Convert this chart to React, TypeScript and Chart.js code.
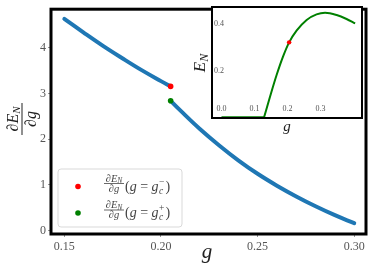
import React, { useEffect, useRef } from "react";
import { Chart, registerables } from "chart.js";
Chart.register(...registerables);

// ---- main plot data: dE_N/dg vs g ----
const gUpper = [0.150, 0.160, 0.170, 0.180, 0.190, 0.200, 0.205];
const dEUpper = [4.63, 4.33, 4.04, 3.77, 3.51, 3.27, 3.155];
const gLower = [0.205, 0.210, 0.220, 0.230, 0.240, 0.250, 0.260, 0.270, 0.280, 0.290, 0.300];
const dELower = [2.84, 2.63, 2.23, 1.87, 1.54, 1.245, 0.985, 0.75, 0.535, 0.34, 0.165];
const gCritical = [0.205];
const dEMinus = [3.155];
const dEPlus = [2.84];
const xTicks = [0.15, 0.2, 0.25, 0.3];
const yTicks = [0, 1, 2, 3, 4];

// ---- inset data: E_N vs g ----
const insetGFlat = [0.0, 0.05, 0.1, 0.129];
const insetEFlat = [0, 0, 0, 0];
const insetGRise = [0.129, 0.147, 0.167, 0.187, 0.205, 0.228, 0.258, 0.288, 0.314, 0.349, 0.379, 0.405];
const insetERise = [0, 0.088, 0.181, 0.262, 0.321, 0.372, 0.417, 0.441, 0.448, 0.438, 0.421, 0.402];
const insetCritE = [0.321];
const insetXTicks = [0, 0.1, 0.2, 0.3];
const insetYTicks = [0.2, 0.4];

const SERIF = "'Liberation Serif', 'Times New Roman', serif";

const pts = (xs: number[], ys: number[]) => xs.map((x, i) => ({ x, y: ys[i] }));

type Run = { t: string; f: string; dy?: number };
function runsWidth(ctx: CanvasRenderingContext2D, runs: Run[]) {
  let w = 0;
  for (const r of runs) { ctx.font = r.f; w += ctx.measureText(r.t).width; }
  return w;
}
function drawRuns(ctx: CanvasRenderingContext2D, runs: Run[], x: number, y: number) {
  let cx = x;
  ctx.textAlign = "left";
  ctx.textBaseline = "alphabetic";
  for (const r of runs) {
    ctx.font = r.f;
    ctx.fillText(r.t, cx, y + (r.dy || 0));
    cx += ctx.measureText(r.t).width;
  }
  return cx;
}
function drawFrac(ctx: CanvasRenderingContext2D, num: Run[], den: Run[], cx: number, barY: number, numBase: number, denBase: number, barHalf: number, lw: number) {
  const wn = runsWidth(ctx, num);
  const wd = runsWidth(ctx, den);
  drawRuns(ctx, num, cx - wn / 2, barY + numBase);
  drawRuns(ctx, den, cx - wd / 2, barY + denBase);
  ctx.fillRect(cx - barHalf, barY - lw / 2, barHalf * 2, lw);
}

const mainDecor = {
  id: "mainDecor",
  afterDraw(chart: any) {
    const ctx: CanvasRenderingContext2D = chart.ctx;
    const a = chart.chartArea;
    ctx.save();
    // frame
    ctx.strokeStyle = "#000";
    ctx.lineWidth = 3;
    ctx.strokeRect(a.left, a.top, a.right - a.left, a.bottom - a.top);

    // legend box
    const lx = 58, ly = 169, lw = 124, lh = 58, rr = 3;
    ctx.beginPath();
    ctx.moveTo(lx + rr, ly);
    ctx.arcTo(lx + lw, ly, lx + lw, ly + lh, rr);
    ctx.arcTo(lx + lw, ly + lh, lx, ly + lh, rr);
    ctx.arcTo(lx, ly + lh, lx, ly, rr);
    ctx.arcTo(lx, ly, lx + lw, ly, rr);
    ctx.closePath();
    ctx.fillStyle = "rgba(255,255,255,0.85)";
    ctx.fill();
    ctx.strokeStyle = "#d9d9d9";
    ctx.lineWidth = 1;
    ctx.stroke();

    const rows = [
      { y: 186.5, color: "#ff0000", sup: "\u2212" },
      { y: 213, color: "#008000", sup: "+" },
    ];
    for (const row of rows) {
      ctx.fillStyle = row.color;
      ctx.beginPath();
      ctx.arc(78, row.y, 2.8, 0, Math.PI * 2);
      ctx.fill();
      ctx.fillStyle = "#444";
      const fi = `italic 10.5px ${SERIF}`;
      const fs = `italic 7.5px ${SERIF}`;
      drawFrac(
        ctx,
        [{ t: "\u2202", f: fi }, { t: "E", f: fi }, { t: "N", f: fs, dy: 1.5 }],
        [{ t: "\u2202", f: fi }, { t: "g", f: fi }],
        114, row.y - 3, -2, 8, 10, 0.8
      );
      const fr = `14px ${SERIF}`;
      const fit = `italic 14px ${SERIF}`;
      const base = row.y + 4;
      let x = 125;
      x = drawRuns(ctx, [{ t: "(", f: fr }, { t: "g", f: fit }], x, base);
      x += 3.5;
      x = drawRuns(ctx, [{ t: "=", f: fr }], x, base);
      x += 3.5;
      x = drawRuns(ctx, [{ t: "g", f: fit }], x, base);
      ctx.font = `italic 9.5px ${SERIF}`;
      ctx.fillText("c", x + 0.5, base + 3);
      const wc = ctx.measureText("c").width;
      ctx.font = `9.5px ${SERIF}`;
      ctx.fillText(row.sup, x + 0.5, base - 6);
      const ws = ctx.measureText(row.sup).width;
      x += Math.max(wc, ws) + 1.5;
      drawRuns(ctx, [{ t: ")", f: fr }], x, base);
    }

    // x label
    ctx.fillStyle = "#222";
    ctx.font = `italic 21px ${SERIF}`;
    ctx.textAlign = "center";
    ctx.textBaseline = "alphabetic";
    ctx.fillText("g", 207, 258);

    // y label (rotated fraction)
    ctx.save();
    ctx.translate(22, 119);
    ctx.rotate(-Math.PI / 2);
    const fy = `italic 16px ${SERIF}`;
    const fys = `italic 11px ${SERIF}`;
    drawFrac(
      ctx,
      [{ t: "\u2202", f: fy }, { t: "E", f: fy }, { t: "N", f: fys, dy: 2.5 }],
      [{ t: "\u2202", f: fy }, { t: "g", f: fy }],
      0, 0, -4.5, 13.5, 16, 1
    );
    ctx.restore();
    ctx.restore();
  },
};

const insetDecor = {
  id: "insetDecor",
  beforeDraw(chart: any) {
    const ctx: CanvasRenderingContext2D = chart.ctx;
    const a = chart.chartArea;
    ctx.save();
    ctx.fillStyle = "#fff";
    ctx.fillRect(a.left, a.top, a.right - a.left, a.bottom - a.top);
    ctx.restore();
  },
  afterDraw(chart: any) {
    const ctx: CanvasRenderingContext2D = chart.ctx;
    const a = chart.chartArea;
    ctx.save();
    ctx.strokeStyle = "#000";
    ctx.lineWidth = 2;
    ctx.strokeRect(a.left, a.top, a.right - a.left, a.bottom - a.top);
    ctx.fillStyle = "#222";
    ctx.font = `italic 15px ${SERIF}`;
    ctx.textAlign = "center";
    ctx.textBaseline = "alphabetic";
    ctx.fillText("g", (a.left + a.right) / 2, 131);
    // E_N rotated
    ctx.save();
    ctx.translate(15, 63);
    ctx.rotate(-Math.PI / 2);
    ctx.font = `italic 17px ${SERIF}`;
    const wE = ctx.measureText("E").width;
    ctx.font = `italic 12px ${SERIF}`;
    const wN = ctx.measureText("N").width;
    const start = -(wE + wN) / 2;
    ctx.textAlign = "left";
    ctx.font = `italic 17px ${SERIF}`;
    ctx.fillText("E", start, 0);
    ctx.font = `italic 12px ${SERIF}`;
    ctx.fillText("N", start + wE, 3);
    ctx.restore();
    ctx.restore();
  },
};

export default function App() {
  const mainRef = useRef<HTMLCanvasElement>(null);
  const insetRef = useRef<HTMLCanvasElement>(null);

  useEffect(() => {
    const main = new Chart(mainRef.current as HTMLCanvasElement, {
      type: "line",
      data: {
        datasets: [
          { type: "scatter", data: pts(gCritical, dEMinus), backgroundColor: "#ff0000", borderWidth: 0, pointRadius: 2.8 } as any,
          { type: "scatter", data: pts(gCritical, dEPlus), backgroundColor: "#008000", borderWidth: 0, pointRadius: 2.8 } as any,
          { data: pts(gUpper, dEUpper), borderColor: "#1f77b4", borderWidth: 4, pointRadius: 0, tension: 0.4, borderCapStyle: "round", fill: false },
          { data: pts(gLower, dELower), borderColor: "#1f77b4", borderWidth: 4, pointRadius: 0, tension: 0.4, borderCapStyle: "round", fill: false },
        ],
      },
      options: {
        responsive: false,
        animation: false,
        layout: { padding: { left: 0, right: 8, top: 7, bottom: 0 } },
        plugins: { legend: { display: false }, tooltip: { enabled: false } },
        scales: {
          x: {
            type: "linear",
            min: 0.1431,
            max: 0.3061,
            afterBuildTicks: (s: any) => { s.ticks = xTicks.map((v) => ({ value: v })); },
            afterFit: (s: any) => { s.height = 46; },
            grid: { drawOnChartArea: false, drawTicks: true, tickLength: 3, tickColor: "#999" },
            border: { display: false },
            ticks: { font: { family: SERIF, size: 12 }, color: "#555", padding: 3, maxRotation: 0, callback: (v: any) => Number(v).toFixed(2) },
          },
          y: {
            type: "linear",
            min: -0.071,
            max: 4.842,
            afterBuildTicks: (s: any) => { s.ticks = yTicks.map((v) => ({ value: v })); },
            afterFit: (s: any) => { s.width = 51; },
            grid: { drawOnChartArea: false, drawTicks: true, tickLength: 3, tickColor: "#999" },
            border: { display: false },
            ticks: { font: { family: SERIF, size: 12 }, color: "#555", padding: 2, callback: (v: any) => String(v) },
          },
        },
      },
      plugins: [mainDecor],
    });

    const inset = new Chart(insetRef.current as HTMLCanvasElement, {
      type: "line",
      data: {
        datasets: [
          { type: "scatter", data: pts(gCritical, insetCritE), backgroundColor: "#ff0000", borderWidth: 0, pointRadius: 2.2 } as any,
          { data: pts(insetGFlat, insetEFlat), borderColor: "#008000", borderWidth: 2, pointRadius: 0, tension: 0, fill: false },
          { data: pts(insetGRise, insetERise), borderColor: "#008000", borderWidth: 2, pointRadius: 0, cubicInterpolationMode: "monotone", fill: false },
        ],
      },
      options: {
        responsive: false,
        animation: false,
        layout: { padding: { left: 0, right: 12, top: 7, bottom: 0 } },
        plugins: { legend: { display: false }, tooltip: { enabled: false } },
        scales: {
          x: {
            type: "linear",
            min: -0.0288,
            max: 0.4258,
            afterBuildTicks: (s: any) => { s.ticks = insetXTicks.map((v) => ({ value: v })); },
            afterFit: (s: any) => { s.height = 22; },
            grid: { display: false },
            border: { display: false },
            ticks: { mirror: true, font: { family: SERIF, size: 8 }, color: "#555", padding: 4, maxRotation: 0, callback: (v: any) => Number(v).toFixed(1) },
          },
          y: {
            type: "linear",
            min: -0.003,
            max: 0.4724,
            afterBuildTicks: (s: any) => { s.ticks = insetYTicks.map((v) => ({ value: v })); },
            afterFit: (s: any) => { s.width = 22; },
            grid: { display: false },
            border: { display: false },
            ticks: { mirror: true, font: { family: SERIF, size: 8 }, color: "#555", padding: 2, callback: (v: any) => Number(v).toFixed(1) },
          },
        },
      },
      plugins: [insetDecor],
    });

    return () => {
      main.destroy();
      inset.destroy();
    };
  }, []);

  return (
    <div style={{ position: "absolute", left: 0, top: 0, width: 374, height: 280, background: "#fff" }}>
      <canvas ref={mainRef} width={374} height={280} style={{ position: "absolute", left: 0, top: 0, width: 374, height: 280, display: "block" }} />
      <canvas ref={insetRef} width={184} height={140} style={{ position: "absolute", left: 190, top: 0, width: 184, height: 140, display: "block" }} />
    </div>
  );
}
